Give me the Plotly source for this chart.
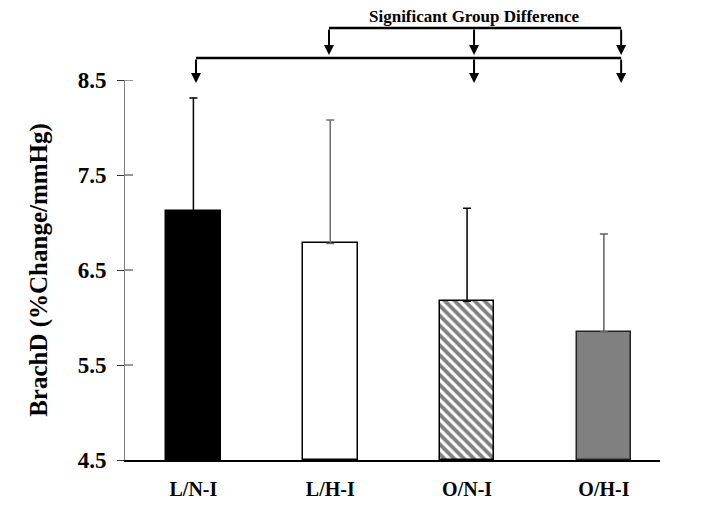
import plotly.graph_objects as go

categories = ["L/N-I", "L/H-I", "O/N-I", "O/H-I"]
means = [7.12, 6.78, 6.17, 5.85]
err_up = [1.19, 1.30, 0.98, 1.03]
y_ticks = [4.5, 5.5, 6.5, 7.5, 8.5]
y_title = "BrachD (%Change/mmHg)"
sig_label = "Significant Group Difference"

FONT = "Liberation Serif"
M_T, M_B, M_L, M_R = 72, 65, 117, 56
PLOT_H = 517 - M_T - M_B
PLOT_W = 708 - M_L - M_R
fills = ["#000000", "#ffffff", "#ffffff", "#808080"]
lines = ["#000000", "#000000", "#000000", "#222222"]
errc = ["#000000", "#707070", "#000000", "#606060"]
patterns = ["", "", "\\", ""]

fig = go.Figure()
for i, c in enumerate(categories):
    fig.add_trace(go.Bar(
        x=[i], y=[means[i] - y_ticks[0]], base=y_ticks[0], width=0.4,
        marker=dict(color=fills[i], line=dict(color=lines[i], width=1.5),
                    pattern=dict(shape=patterns[i], fgcolor="#000000", bgcolor="#ffffff",
                                 size=7, solidity=0.55)),
        error_y=dict(type="data", symmetric=False, array=[err_up[i]], arrayminus=[0],
                     color=errc[i], thickness=1.5, width=4),
        showlegend=False, name=c))

fig.update_layout(
    width=708, height=517,
    margin=dict(l=M_L, r=M_R, t=M_T, b=M_B),
    plot_bgcolor="white", paper_bgcolor="white",
    font=dict(family=FONT, color="#000000"),
    bargap=0,
    xaxis=dict(range=[-0.5, 3.41], tickvals=list(range(len(categories))),
               ticktext=[f"<b>{c}</b>" for c in categories],
               showgrid=False, zeroline=False, showline=True, linecolor="#000000", linewidth=1.5,
               ticks="", tickfont=dict(family=FONT, size=20, color="#000000"),
               ticklabelstandoff=10),
    yaxis=dict(range=[y_ticks[0], y_ticks[-1]], tickvals=y_ticks,
               ticktext=[f"<b>{v:.1f}</b>" for v in y_ticks],
               showgrid=False, zeroline=False, showline=True, linecolor="#808080", linewidth=1,
               ticks="outside", ticklen=7, tickcolor="#333333", tickwidth=1,
               ticklabelstandoff=6,
               tickfont=dict(family=FONT, size=23, color="#000000"),
               title=dict(text=f"<b>{y_title}</b>", font=dict(family=FONT, size=25), standoff=22)),
)

# inner half of crossing ticks
for v in y_ticks[1:]:
    fig.add_shape(type="line", xref="paper", yref="y", x0=0, x1=8 / PLOT_W, y0=v, y1=v,
                  line=dict(color="#333333", width=1))

# significance brackets
top_arrows = [0.991, 2.051, 3.126]
low_arrows = [0.019, 2.051, 3.126]
top_y, top_tip = 1.137, 1.066
low_y, low_tip = 1.058, 0.992
fig.add_shape(type="line", xref="x", yref="paper", x0=top_arrows[0], x1=top_arrows[-1],
              y0=top_y, y1=top_y, line=dict(color="#000000", width=2.5))
fig.add_shape(type="line", xref="x", yref="paper", x0=low_arrows[0], x1=low_arrows[-1],
              y0=low_y, y1=low_y, line=dict(color="#000000", width=2.5))
for xa in top_arrows:
    fig.add_annotation(x=xa, y=top_tip, ax=0, ay=-(top_y - top_tip) * PLOT_H, xref="x", yref="paper",
                       text="", showarrow=True,
                       arrowhead=2, arrowsize=1, arrowwidth=2, arrowcolor="#000000")
for xa in low_arrows:
    fig.add_annotation(x=xa, y=low_tip, ax=0, ay=-(low_y - low_tip) * PLOT_H, xref="x", yref="paper",
                       text="", showarrow=True,
                       arrowhead=2, arrowsize=1, arrowwidth=2, arrowcolor="#000000")
fig.add_annotation(x=top_arrows[1], y=1.166, xref="x", yref="paper", yanchor="middle",
                   text=f"<b>{sig_label}</b>",
                   showarrow=False, font=dict(family=FONT, size=17, color="#000000"))

fig.write_html("out.html")
